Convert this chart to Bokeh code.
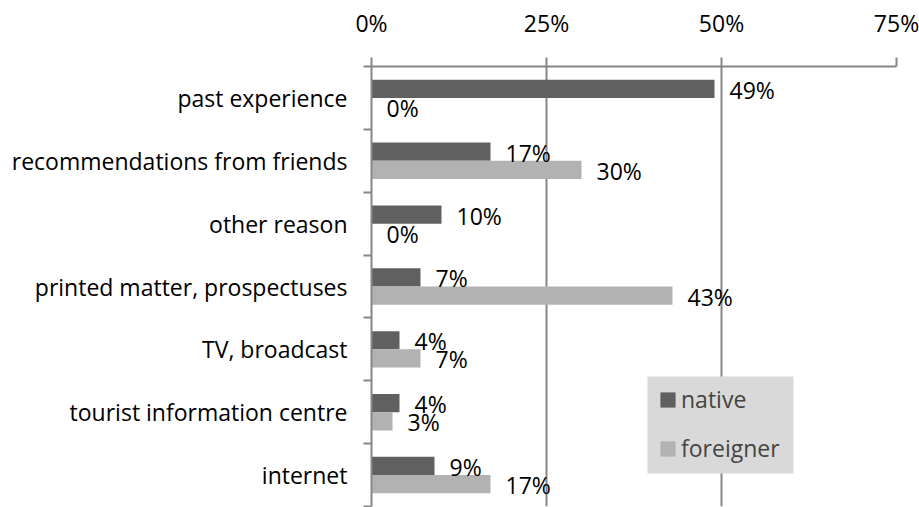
from bokeh.plotting import figure
from bokeh.models import (ColumnDataSource, Range1d, FixedTicker, Legend, LegendItem, LabelSet,
                          BoxAnnotation)
from bokeh.core.properties import value
from bokeh.transform import dodge
from bokeh.embed import file_html
from bokeh.resources import INLINE

categories = ["past experience", "recommendations from friends", "other reason",
              "printed matter, prospectuses", "TV, broadcast",
              "tourist information centre", "internet"]
native = [49, 17, 10, 7, 4, 4, 9]
foreigner = [0, 30, 0, 43, 7, 3, 17]
x_ticks = [0, 25, 50, 75]
x_tick_labels = ["0%", "25%", "50%", "75%"]

FONT = "Open Sans"
FS = "23px"
GRAY = "#868686"
LW = 2

pos = [i + 0.5 for i in range(len(categories))]
src = ColumnDataSource(dict(
    pos=pos, cat=categories, native=native, foreigner=foreigner,
    native_lbl=[f"{v}%" for v in native],
    foreigner_lbl=[f"{v}%" for v in foreigner],
))

p = figure(width=919, height=507, output_backend="svg", toolbar_location=None,
           x_range=Range1d(0, 75), y_range=Range1d(len(categories), 0),
           x_axis_location="above",
           min_border_left=371, min_border_right=23, min_border_top=66, min_border_bottom=1)
p.outline_line_color = None

off = 0.145
hh = 0.29
r_n = p.hbar(y=dodge("pos", -off), right="native", left=0, height=hh, source=src,
             fill_color="#606060", line_color=None)
r_f = p.hbar(y=dodge("pos", off), right="foreigner", left=0, height=hh, source=src,
             fill_color="#b2b2b2", line_color=None)

for col, lbl, o in (("native", "native_lbl", -off), ("foreigner", "foreigner_lbl", off)):
    p.add_layout(LabelSet(x=col, y=dodge("pos", o), text=lbl, source=src,
                          x_offset=15, y_offset=-1, text_baseline="middle",
                          text_font=value(FONT), text_font_size=value(FS),
                          text_color="black"))

# x axis (top)
xa = p.xaxis[0]
xa.ticker = FixedTicker(ticks=x_ticks)
xa.major_label_overrides = {t: l for t, l in zip(x_ticks, x_tick_labels)}
xa.major_label_text_font = FONT
xa.major_label_text_font_size = FS
xa.major_label_text_color = "black"
xa.axis_line_color = GRAY
xa.axis_line_width = LW
xa.major_tick_line_color = GRAY
xa.major_tick_line_width = LW
xa.major_tick_out = 9
xa.major_tick_in = 0
xa.minor_tick_line_color = None
xa.major_label_standoff = 19

# y axis
ya = p.yaxis[0]
ya.ticker = FixedTicker(ticks=pos, minor_ticks=list(range(len(categories) + 1)))
ya.major_label_overrides = {pp: c for pp, c in zip(pos, categories)}
ya.major_label_text_font = FONT
ya.major_label_text_font_size = FS
ya.major_label_text_color = "black"
ya.axis_line_color = GRAY
ya.axis_line_width = LW
ya.major_tick_line_color = None
ya.major_tick_out = 0
ya.major_tick_in = 0
ya.minor_tick_line_color = GRAY
ya.minor_tick_line_width = LW
ya.minor_tick_out = 8
ya.minor_tick_in = 0
ya.major_label_standoff = 16

p.xgrid.ticker = FixedTicker(ticks=x_ticks[1:])
p.xgrid.grid_line_color = GRAY
p.xgrid.grid_line_width = LW
p.ygrid.grid_line_color = None

# legend background box
p.add_layout(BoxAnnotation(left=276, right=422, bottom=33, top=130,
                           left_units="screen", right_units="screen",
                           bottom_units="screen", top_units="screen",
                           fill_color="#d9d9d9", fill_alpha=1, line_color=None))

legend = Legend(items=[LegendItem(label="native", renderers=[r_n]),
                       LegendItem(label="foreigner", renderers=[r_f])],
                location=(287, 42), background_fill_alpha=0,
                border_line_color=None, glyph_width=19, glyph_height=19,
                label_text_font=FONT, label_text_font_size=FS, label_standoff=4,
                spacing=17, padding=0, margin=0)
p.add_layout(legend, "center")

open("out.html", "w").write(file_html(p, INLINE))
